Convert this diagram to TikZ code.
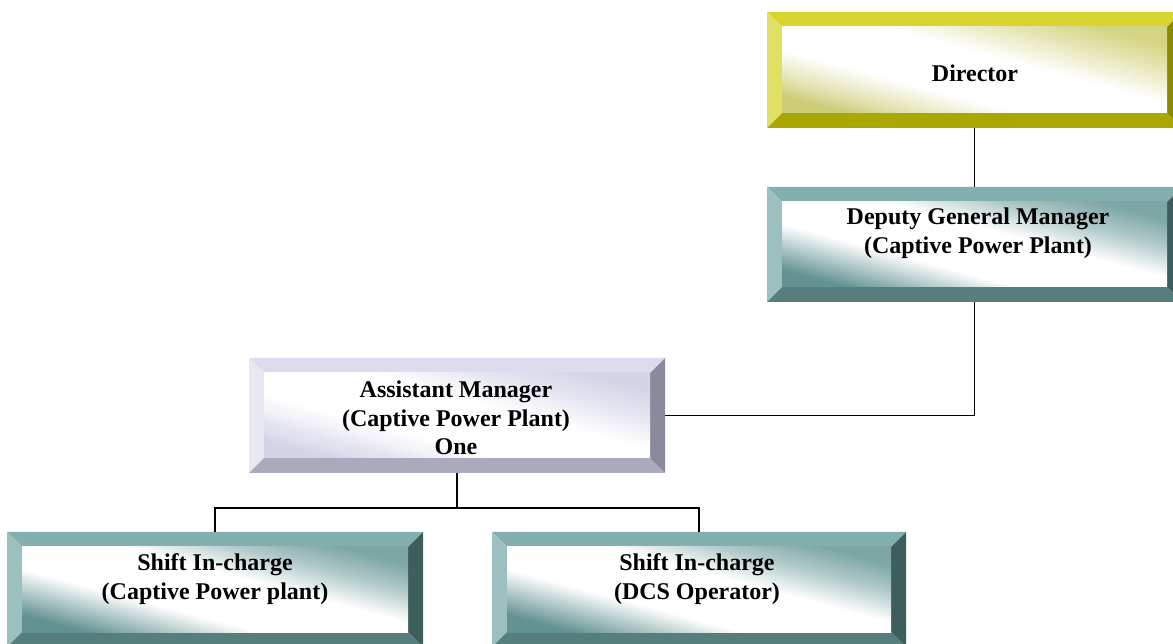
\documentclass[tikz,border=0pt]{standalone}
\usepackage{fontspec}
\setmainfont{Liberation Serif}
\usetikzlibrary{calc}
\definecolor{yT}{RGB}{216,213,48}
\definecolor{yL}{RGB}{226,224,100}
\definecolor{yB}{RGB}{170,168,0}
\definecolor{yR}{RGB}{138,138,0}
\definecolor{yG}{RGB}{205,205,120}
\definecolor{yG2}{RGB}{212,212,130}
\definecolor{tT}{RGB}{132,175,175}
\definecolor{tL}{RGB}{155,192,191}
\definecolor{tB}{RGB}{85,126,125}
\definecolor{tR}{RGB}{62,94,93}
\definecolor{tG}{RGB}{100,146,146}
\definecolor{tG2}{RGB}{125,166,164}
\definecolor{lT}{RGB}{220,220,238}
\definecolor{lL}{RGB}{232,232,244}
\definecolor{lB}{RGB}{170,170,190}
\definecolor{lR}{RGB}{138,138,158}
\definecolor{lG}{RGB}{212,212,232}
\pgfdeclarehorizontalshading{yelsh}{100bp}{color(0bp)=(yG); color(25bp)=(yG); color(30bp)=(yG!60!white); color(40bp)=(white); color(56bp)=(white); color(67bp)=(yG2!60!white); color(75bp)=(yG2); color(100bp)=(yG2)}
\pgfdeclarehorizontalshading{tealsh}{100bp}{color(0bp)=(tG); color(25bp)=(tG); color(31bp)=(tG!60!white); color(40bp)=(white); color(56bp)=(white); color(66bp)=(tG2!60!white); color(75bp)=(tG2); color(100bp)=(tG2)}
\pgfdeclarehorizontalshading{lavsh}{100bp}{color(0bp)=(lG); color(25bp)=(lG); color(31bp)=(lG!60!white); color(40bp)=(white); color(56bp)=(white); color(66bp)=(lG!60!white); color(75bp)=(lG); color(100bp)=(lG)}
\tikzset{
  bevelbox/.style n args={5}{rectangle, inner sep=0pt, draw=none,
    path picture={
      \path (path picture bounding box.south west) coordinate (@sw)
            (path picture bounding box.north east) coordinate (@ne)
            (path picture bounding box.north west) coordinate (@nw)
            (path picture bounding box.south east) coordinate (@se);
      \fill[#1] (@nw) -- (@ne) -- ([shift={(-15pt,-15pt)}]@ne) -- ([shift={(15pt,-15pt)}]@nw) -- cycle;
      \fill[#2] (@nw) -- (@sw) -- ([shift={(15pt,15pt)}]@sw) -- ([shift={(15pt,-15pt)}]@nw) -- cycle;
      \fill[#3] (@sw) -- (@se) -- ([shift={(-15pt,15pt)}]@se) -- ([shift={(15pt,15pt)}]@sw) -- cycle;
      \fill[#4] (@ne) -- (@se) -- ([shift={(-15pt,15pt)}]@se) -- ([shift={(-15pt,-15pt)}]@ne) -- cycle;
      \shade[shading=#5, shading angle=75] ([shift={(15pt,15pt)}]@sw) rectangle ([shift={(-15pt,-15pt)}]@ne);
    }},
  yelbox/.style={bevelbox={yT}{yL}{yB}{yR}{yelsh}},
  tealbox/.style={bevelbox={tT}{tL}{tB}{tR}{tealsh}},
  lavbox/.style={bevelbox={lT}{lL}{lB}{lR}{lavsh}},
  lbl/.style={font=\bfseries\fontsize{24}{28.5}\selectfont, align=center, inner sep=0pt},
  conn/.style={draw=black, line width=1.6pt}
}
\begin{document}
\begin{tikzpicture}[x=1pt,y=1pt]
\useasboundingbox (0,0) rectangle (1173,643);
% boxes
\node[yelbox, minimum width=415pt, minimum height=116pt] (dir) at (974.5,573) {};
\node[tealbox, minimum width=415pt, minimum height=115pt] (dgm) at (974.5,398.5) {};
\node[lavbox, minimum width=416pt, minimum height=115pt] (am) at (457,227.5) {};
\node[tealbox, minimum width=416pt, minimum height=115pt] (bl) at (215,53.5) {};
\node[tealbox, minimum width=414pt, minimum height=115pt] (br) at (699,53.5) {};
% labels
\node[lbl] (dirT) at (975,570) {Director};
\node[lbl] (dgmT) at (978,410) {Deputy General Manager\\(Captive Power Plant)};
\node[lbl] (amT) at (456,225) {Assistant Manager\\(Captive Power Plant)\\One};
\node[lbl] (blT) at (215,64) {Shift In-charge\\(Captive Power plant)};
\node[lbl] (brT) at (697,64) {Shift In-charge\\(DCS Operator)};
% connectors
\draw[conn] (dir.south) -- (dgm.north);
\draw[conn] (dgm.south) |- (am.east);
\draw[conn] (am.south) -- ++(0,-35) coordinate (j);
\draw[conn] (j) -| (bl.north);
\draw[conn] (j) -| (br.north);
\end{tikzpicture}
\end{document}
